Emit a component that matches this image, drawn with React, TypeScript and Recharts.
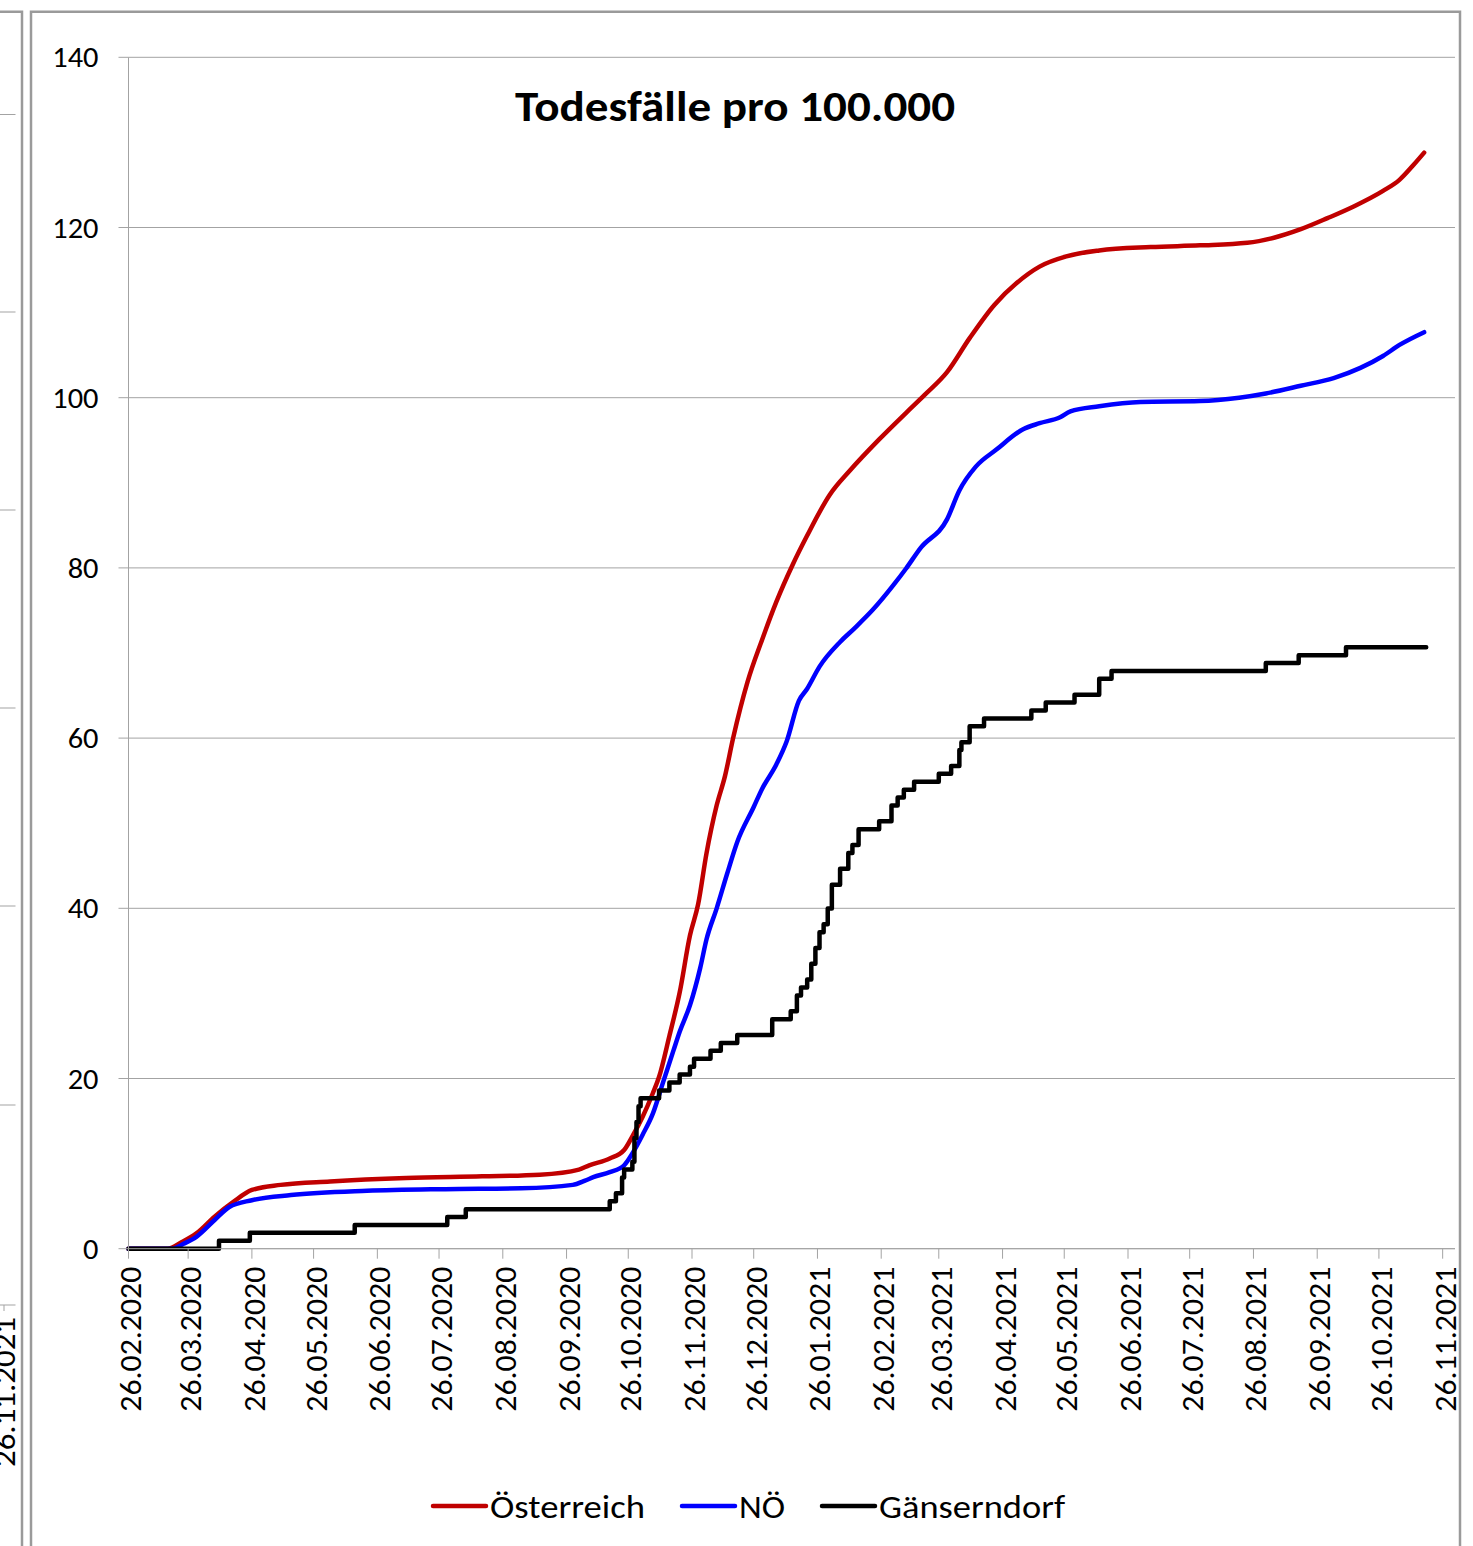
import React from 'react';
import { LineChart, Line, XAxis, YAxis, CartesianGrid, Legend } from 'recharts';

// Tick labels of the date axis (monthly)
const tickLabels = [
  '26.02.2020', '26.03.2020', '26.04.2020', '26.05.2020', '26.06.2020', '26.07.2020',
  '26.08.2020', '26.09.2020', '26.10.2020', '26.11.2020', '26.12.2020', '26.01.2021',
  '26.02.2021', '26.03.2021', '26.04.2021', '26.05.2021', '26.06.2021', '26.07.2021',
  '26.08.2021', '26.09.2021', '26.10.2021', '26.11.2021',
];
const yTicks = [0, 20, 40, 60, 80, 100, 120, 140];
const seriesNames = ['Österreich', 'NÖ', 'Gänserndorf'];
const seriesColors = ['#C00000', '#0000FF', '#000000'];
const title = 'Todesfälle pro 100.000';

// [days since 26.02.2020, deaths per 100,000]
const oesterreich: [number, number][] = [
  [0, 0], [19, 0], [26, 0.8], [33, 1.8], [42, 3.8], [51, 5.5], [60, 6.9], [74, 7.5], [98, 7.9], [135, 8.3],
  [172, 8.5], [200, 8.7], [219, 9.3], [224, 9.8], [234, 10.6], [241, 11.6], [245, 13.2], [250, 15.5], [255, 18.3], [258, 20.2],
  [263, 25], [268, 30.1], [273, 36.8], [277, 40.5], [281, 46.4], [286, 52.1], [290, 55.5], [294, 60], [301, 66.6], [308, 71.5],
  [315, 76], [323, 80.4], [330, 83.8], [341, 88.6], [351, 91.5], [365, 95.1], [378, 98.2], [387, 100.3], [398, 103], [409, 107],
  [421, 110.9], [432, 113.5], [443, 115.4], [456, 116.6], [472, 117.3], [497, 117.7], [521, 117.9], [544, 118.2], [557, 118.8], [570, 119.8],
  [583, 121.1], [596, 122.5], [610, 124.3], [618, 125.6], [625, 127.4], [630, 128.8],
];

const noe: [number, number][] = [
  [0, 0], [21, 0], [27, 0.6], [33, 1.4], [42, 3.4], [49, 4.9], [60, 5.7], [79, 6.3], [116, 6.8], [154, 7.0],
  [191, 7.1], [216, 7.5], [222, 8.0], [226, 8.4], [234, 9.0], [241, 9.8], [245, 11.2], [250, 13.4], [255, 15.9], [260, 19.6],
  [265, 23.3], [268, 25.5], [273, 28.6], [278, 33], [281, 36.3], [286, 40], [291, 44], [296, 47.8], [304, 51.9], [308, 54],
  [315, 56.9], [320, 59.6], [326, 64.4], [330, 65.8], [336, 68.4], [346, 71.3], [353, 72.9], [362, 75.1], [372, 78], [378, 79.9],
  [385, 82.3], [398, 85.7], [404, 89.1], [412, 91.9], [422, 93.9], [435, 96.3], [443, 97], [453, 97.7], [458, 98.4], [472, 99],
  [492, 99.5], [521, 99.6], [540, 100], [553, 100.5], [570, 101.4], [586, 102.3], [599, 103.5], [610, 104.9], [618, 106.2], [630, 107.7],
];

const gaenserndorf: [number, number][] = [
  [0, 0], [44, 0.93], [59, 1.86], [110, 2.79], [155, 3.72], [164, 4.65], [234, 5.58], [237, 6.51], [240, 8.37], [241, 9.3],
  [245, 10.23], [246, 13.02], [247, 14.88], [248, 16.74], [249, 17.67], [258, 18.6], [263, 19.53], [268, 20.46], [273, 21.39], [275, 22.32],
  [283, 23.25], [288, 24.18], [296, 25.11], [313, 26.97], [322, 27.9], [325, 29.76], [327, 30.69], [330, 31.62], [332, 33.48], [334, 35.34],
  [336, 37.2], [338, 38.13], [340, 39.99], [342, 42.78], [346, 44.64], [350, 46.5], [352, 47.43], [355, 49.29], [365, 50.22], [371, 52.08],
  [374, 53.01], [377, 53.94], [382, 54.87], [394, 55.8], [400, 56.73], [404, 58.59], [405, 59.52], [409, 61.38], [416, 62.31], [439, 63.24],
  [446, 64.17], [460, 65.1], [472, 66.96], [478, 67.89], [553, 68.82], [569, 69.75], [592, 70.68], [631, 70.68],
];

const FONT = "Carlito, Calibri, Lato, 'Open Sans', sans-serif";
const GRID = '#a3a3a3';

const dayOf = (s: string) => {
  const [d, m, y] = s.split('.').map(Number);
  return Math.round((Date.UTC(y, m - 1, d) - Date.UTC(2020, 1, 26)) / 86400000);
};
const tickDays = tickLabels.map(dayOf);
const labelByDay: Record<number, string> = {};
tickDays.forEach((d, i) => { labelByDay[d] = tickLabels[i]; });
const toRows = (pairs: [number, number][]) => pairs.map(([day, v]) => ({ day, v }));

const XTick = (props: any) => {
  const { x, y, payload } = props;
  const cx = x + 2.5;
  return (
    <text x={cx} y={y} transform={`rotate(-90 ${cx} ${y})`} textAnchor="end" dominantBaseline="central"
      fontFamily={FONT} fontSize={30} fill="#000" textLength={145} lengthAdjust="spacingAndGlyphs">
      {labelByDay[payload.value]}
    </text>
  );
};

const YTick = (props: any) => {
  const { x, y, payload } = props;
  const s = String(payload.value);
  return (
    <text x={x} y={y} textAnchor="end" dominantBaseline="central" fontFamily={FONT} fontSize={29} fill="#000"
      textLength={s.length * 15.4} lengthAdjust="spacingAndGlyphs">
      {s}
    </text>
  );
};

const LegendContent = () => {
  const items = [
    { lx: 0, tx: 57, tl: 155 },
    { lx: 249, tx: 306, tl: 46 },
    { lx: 389, tx: 446, tl: 186 },
  ];
  return (
    <svg width={650} height={50} style={{ overflow: 'visible' }}>
      {items.map((it, i) => (
        <g key={seriesNames[i]}>
          <line x1={it.lx} x2={it.lx + 53} y1={24} y2={24} stroke={seriesColors[i]} strokeWidth={4.5} strokeLinecap="round" />
          <text x={it.tx} y={36} fontFamily={FONT} fontSize={32} fill="#000" textLength={it.tl} lengthAdjust="spacingAndGlyphs">
            {seriesNames[i]}
          </text>
        </g>
      ))}
    </svg>
  );
};

export default function App() {
  return (
    <div style={{ position: 'absolute', left: 0, top: 0, width: 1473, height: 1546, background: '#fff', overflow: 'hidden' }}>
      <svg width={1473} height={1546} style={{ position: 'absolute', left: 0, top: 0 }}>
        {/* neighbouring chart edge */}
        <path d="M0 11.7 H22 V1546" fill="none" stroke="#9a9a9a" strokeWidth={2.5} />
        {[114.5, 312, 510, 708, 906, 1105].map((y) => (
          <line key={y} x1={0} x2={15.5} y1={y} y2={y} stroke={GRID} strokeWidth={1} />
        ))}
        <line x1={0} x2={15.5} y1={1305} y2={1305} stroke={GRID} strokeWidth={1} />
        <line x1={4} x2={4} y1={1305} y2={1311} stroke={GRID} strokeWidth={1} />
        <text x={15} y={1467} transform="rotate(-90 15 1467)" fontFamily={FONT} fontSize={30} fill="#000"
          textLength={150} lengthAdjust="spacingAndGlyphs">26.11.2021</text>
        {/* main chart frame */}
        <path d="M31 1546 V11.7 H1460 V1546" fill="none" stroke="#9a9a9a" strokeWidth={2.5} />
        <text x={735} y={121} textAnchor="middle" fontFamily={FONT} fontWeight={700} fontSize={42}
          textLength={440} lengthAdjust="spacingAndGlyphs" fill="#000">{title}</text>
      </svg>
      <div style={{ position: 'absolute', left: 0, top: 0 }}>
        <LineChart width={1473} height={1546} margin={{ top: 57.3, right: 18, left: 68.5, bottom: 147.3 }}>
          <CartesianGrid horizontal vertical={false} stroke={GRID} strokeWidth={1} />
          <XAxis type="number" dataKey="day" domain={[0, 645]} ticks={tickDays} interval={0} height={150}
            tick={<XTick />} tickSize={10} tickMargin={8} axisLine={{ stroke: GRID }} tickLine={{ stroke: GRID }} />
          <YAxis type="number" domain={[0, 140]} ticks={yTicks} interval={0} width={60} tickSize={10} tickMargin={20}
            axisLine={{ stroke: GRID }} tickLine={{ stroke: GRID }} tick={<YTick />} />
          <Legend verticalAlign="middle" align="center" layout="horizontal"
            wrapperStyle={{ left: 433, top: 1482, width: 650, height: 50 }} content={<LegendContent />} />
          <Line data={toRows(oesterreich)} dataKey="v" name={seriesNames[0]} type="monotone" stroke={seriesColors[0]}
            strokeWidth={4.5} dot={false} isAnimationActive={false} strokeLinecap="round" strokeLinejoin="round" />
          <Line data={toRows(noe)} dataKey="v" name={seriesNames[1]} type="monotone" stroke={seriesColors[1]}
            strokeWidth={4.5} dot={false} isAnimationActive={false} strokeLinecap="round" strokeLinejoin="round" />
          <Line data={toRows(gaenserndorf)} dataKey="v" name={seriesNames[2]} type="stepAfter" stroke={seriesColors[2]}
            strokeWidth={4.5} dot={false} isAnimationActive={false} strokeLinecap="round" strokeLinejoin="round" />
        </LineChart>
      </div>
    </div>
  );
}
